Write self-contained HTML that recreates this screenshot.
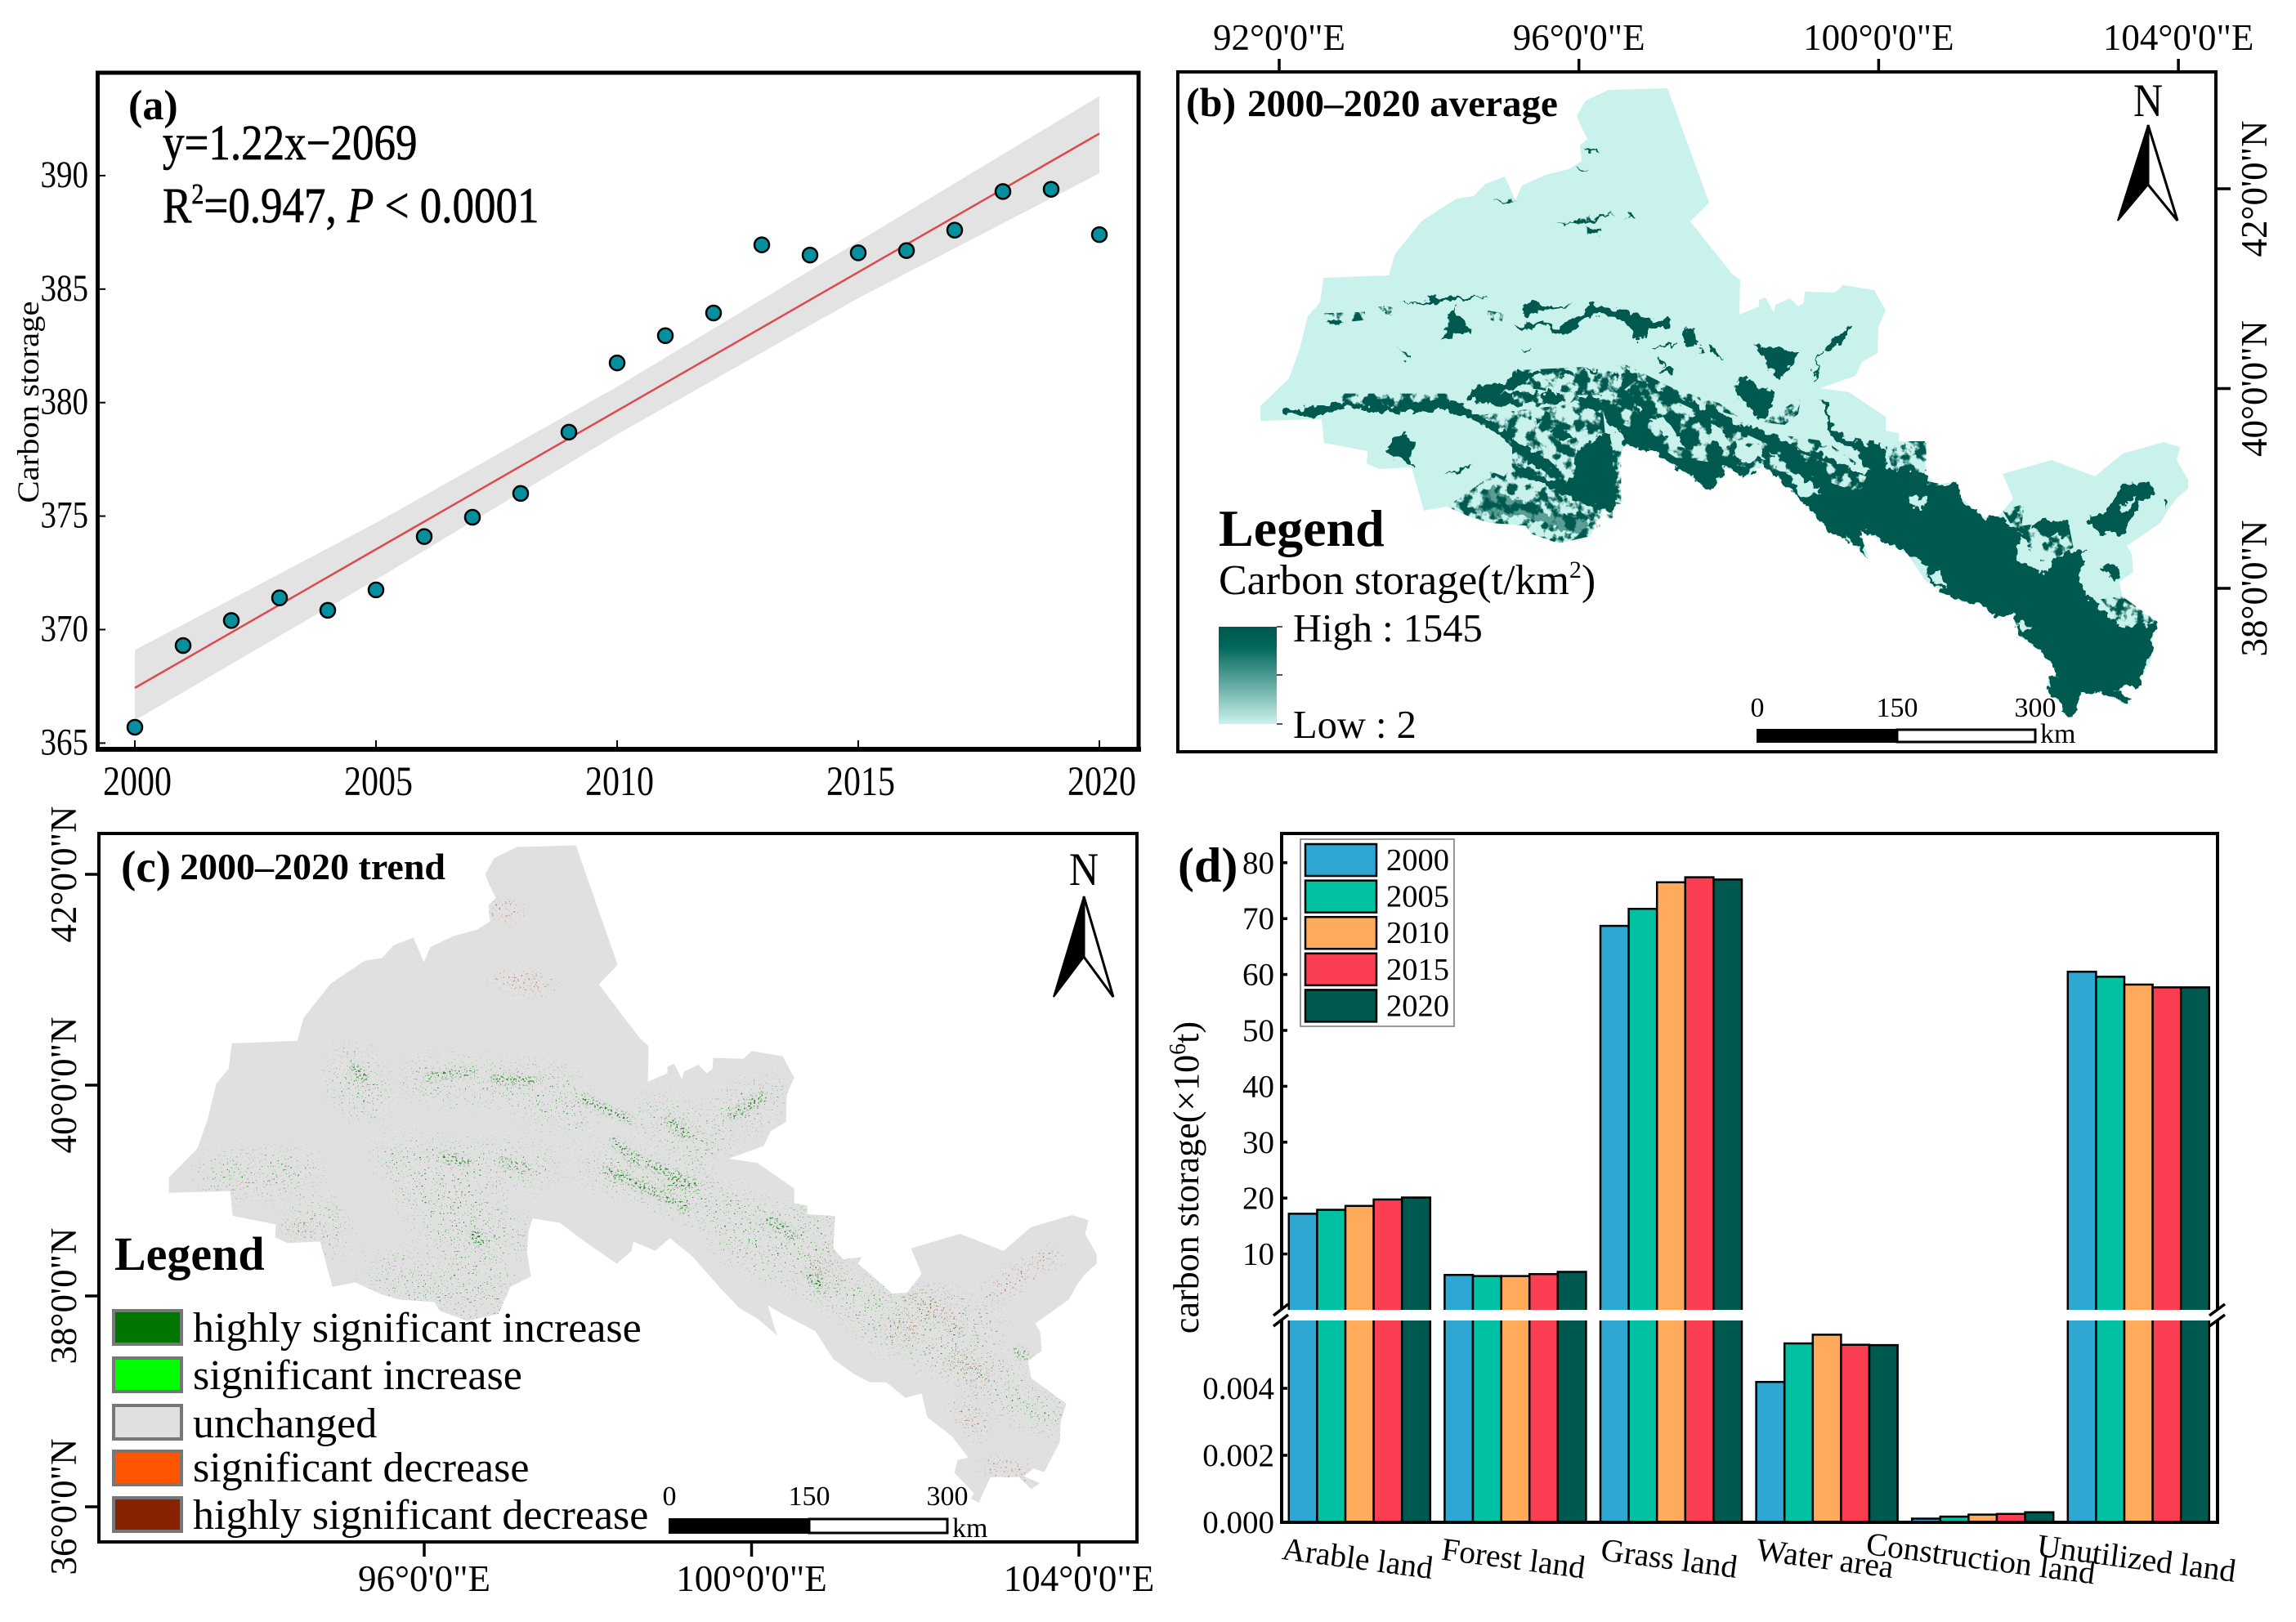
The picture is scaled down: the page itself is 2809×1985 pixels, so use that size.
<!DOCTYPE html>
<html lang="en">
<head>
<meta charset="utf-8">
<title>Carbon storage figure</title>
<style>
html,body{margin:0;padding:0;background:#fff;}
svg{display:block;font-family:"Liberation Serif",serif;}
text{fill:#000;}
</style>
</head>
<body>
<svg id="fig" xmlns="http://www.w3.org/2000/svg" width="2809" height="1985" viewBox="0 0 2809 1985">
<defs>
<path id="region-outline" d="M2040,108 L1968,110 1940,123 1929,142 1933,152 1942,170 1933,178 1935,197 1919,207 1891,214 1862,227 1854,245 1841,216 1817,225 1803,240 1782,243 1740,270 1707,310 1699,337 1619,340 1615,370 1600,387 1590,427 1577,463 1542,497 1542,515 1617,513 1620,542 1673,552 1672,567 1687,574 1727,572 1742,625 1770,620 1800,633 1823,640 1867,643 1873,653 1907,665 1945,657 1960,625 1985,613 1980,583 1982,560 1987,545 2020,550 2052,573 2090,598 2108,583 2110,572 2137,583 2155,568 2183,590 2217,627 2240,650 2263,663 2286,682 2275,647 2293,657 2333,677 2355,710 2380,727 2400,737 2420,737 2443,755 2463,750 2470,778 2500,800 2520,825 2507,828 2503,843 2527,867 2523,873 2533,878 2538,867 2547,848 2582,848 2597,862 2608,855 2588,847 2600,838 2613,842 2632,807 2633,783 2640,762 2597,732 2593,712 2610,700 2608,678 2602,668 2643,640 2653,623 2663,610 2677,598 2677,587 2663,563 2667,547 2647,541 2597,555 2563,583 2510,563 2450,580 2463,610 2445,632 2427,633 2400,610 2385,598 2390,590 2367,593 2355,580 2357,542 2323,540 2323,530 2307,527 2307,510 2262,480 2227,475 2270,460 2278,443 2297,432 2298,400 2307,380 2293,355 2255,349 2245,358 2208,357 2207,370 2200,375 2190,365 2172,373 2170,382 2160,364 2152,367 2152,375 2128,385 2129,343 2119,335 2068,271 2091,248 Z"/>
<clipPath id="c-map-clip"><use href="#region-outline" transform="matrix(1,0,0,1.045,-1335.4,921.6)"/></clipPath>
<linearGradient id="legend-gradient" x1="0" y1="0" x2="0" y2="1">
<stop offset="0" stop-color="#00594e"/><stop offset="0.2" stop-color="#00665a"/><stop offset="1" stop-color="#c9f2ec"/>
</linearGradient>
<filter id="mottle" filterUnits="userSpaceOnUse" x="1440" y="88" width="1272" height="832" color-interpolation-filters="sRGB">
<feTurbulence type="fractalNoise" baseFrequency="0.07" numOctaves="4" seed="3" result="n"/>
<feColorMatrix in="n" type="matrix" values="0 0 0 0 0  0 0 0 0 0  0 0 0 0 0  8 0 0 0 -3.7" result="m"/>
<feComposite in="SourceGraphic" in2="m" operator="in"/>
</filter>
<filter id="mottle-light" filterUnits="userSpaceOnUse" x="1440" y="88" width="1272" height="832" color-interpolation-filters="sRGB">
<feTurbulence type="fractalNoise" baseFrequency="0.055" numOctaves="4" seed="21" result="n"/>
<feColorMatrix in="n" type="matrix" values="0 0 0 0 0  0 0 0 0 0  0 0 0 0 0  10 0 0 0 -5.4" result="m"/>
<feComposite in="SourceGraphic" in2="m" operator="in"/>
</filter>
<filter id="rough" filterUnits="userSpaceOnUse" x="1440" y="88" width="1272" height="832" color-interpolation-filters="sRGB">
<feTurbulence type="fractalNoise" baseFrequency="0.09" numOctaves="3" seed="7" result="n"/>
<feDisplacementMap in="SourceGraphic" in2="n" scale="16" xChannelSelector="R" yChannelSelector="G"/>
</filter>
<filter id="speck-green-sparse" filterUnits="userSpaceOnUse" x="121" y="1020" width="1270" height="867" color-interpolation-filters="sRGB">
<feTurbulence type="fractalNoise" baseFrequency="0.45" numOctaves="2" seed="11" result="n"/>
<feColorMatrix in="n" type="matrix" values="0 0 0 0 0  0 0 0 0 0  0 0 0 0 0  20 0 0 0 -14" result="t"/>
<feGaussianBlur in="SourceAlpha" stdDeviation="14" result="b"/>
<feComposite in="t" in2="b" operator="in" result="m"/>
<feFlood flood-color="#158a15" result="f"/>
<feComposite in="f" in2="m" operator="in"/>
</filter>
<filter id="speck-green-dense" filterUnits="userSpaceOnUse" x="121" y="1020" width="1270" height="867" color-interpolation-filters="sRGB">
<feTurbulence type="fractalNoise" baseFrequency="0.4" numOctaves="2" seed="5" result="n"/>
<feColorMatrix in="n" type="matrix" values="0 0 0 0 0  0 0 0 0 0  0 0 0 0 0  16 0 0 0 -9.6" result="t"/>
<feGaussianBlur in="SourceAlpha" stdDeviation="3" result="b"/>
<feComposite in="t" in2="b" operator="in" result="m"/>
<feFlood flood-color="#0b7a0b" result="f"/>
<feComposite in="f" in2="m" operator="in"/>
</filter>
<filter id="speck-brown" filterUnits="userSpaceOnUse" x="121" y="1020" width="1270" height="867" color-interpolation-filters="sRGB">
<feTurbulence type="fractalNoise" baseFrequency="0.45" numOctaves="2" seed="31" result="n"/>
<feColorMatrix in="n" type="matrix" values="0 0 0 0 0  0 0 0 0 0  0 0 0 0 0  20 0 0 0 -13.4" result="t"/>
<feGaussianBlur in="SourceAlpha" stdDeviation="8" result="b"/>
<feComposite in="t" in2="b" operator="in" result="m"/>
<feFlood flood-color="#a5482a" result="f"/>
<feComposite in="f" in2="m" operator="in"/>
</filter>
</defs>

<!-- PANEL A -->
<g id="panel-a">
<g id="a-marks"></g>
<path d="M119.5,917V89H1393V917Z" fill="none" stroke="#000" stroke-width="5"/>
<line x1="117" x2="1396" y1="917" y2="917" stroke="#000" stroke-width="6"/>
<text x="157" y="146" font-size="52" font-weight="bold">(a)</text>
<text transform="translate(199,195) scale(1,1.15)" font-size="53" stroke="#000" stroke-width="0.6">y=1.22x−2069</text>
<text transform="translate(199,272) scale(1,1.15)" font-size="53" stroke="#000" stroke-width="0.6">R<tspan dy="-20" font-size="30">2</tspan><tspan dy="20">=0.947, </tspan><tspan font-style="italic">P</tspan> &lt; 0.0001</text>
<text transform="translate(47,492) rotate(-90)" text-anchor="middle" font-size="37" textLength="247" lengthAdjust="spacingAndGlyphs">Carbon storage</text>
</g>

<!-- PANEL B -->
<g id="panel-b">
<use href="#region-outline" fill="#c9f2ec"/>

<g filter="url(#mottle)" fill="#00594e">
<g transform="translate(1440,350) scale(0.3333)">
<polygon points="1060,480 1560,420 1600,850 1510,920 1400,945 1300,910 1280,880 1150,870 1080,850 990,810 1120,720 1150,680 1200,700 1260,620 1150,520"/>
<polygon points="540,100 690,95 690,125 560,140"/>
<polygon points="740,75 800,75 800,105 740,100"/>
<polygon points="1140,90 1200,100 1190,140 1140,120"/>
<polygon points="600,395 1000,395 1000,445 800,445 600,435"/>
</g>
<g transform="translate(1850,320) scale(0.3333)">
<polygon points="0,400 420,380 600,470 760,520 830,570 730,540 520,470 400,490 200,490 100,470 0,460"/>
<polygon points="1370,680 1520,665 1520,770 1450,750 1400,775"/>
<polygon points="920,590 1060,500 1050,560 1000,600"/>
<polygon points="1010,640 1150,660 1280,750 1200,740 1060,700"/>
<polygon points="800,440 830,430 830,510 800,490"/>
<polygon points="0,560 400,680 400,890 0,900"/>
</g>
<g transform="translate(2330,530) scale(0.3333)">
<polygon points="360,285 440,260 430,340 450,380 400,350"/>
<polygon points="0,30 75,30 75,150 0,130"/>
<polygon points="430,340 600,320 620,420 540,470 450,470"/>
<polygon points="720,610 800,600 930,695 800,715"/>
<polygon points="720,610 800,600 930,695 800,715"/>
<polygon points="400,670 470,700 440,730 415,720"/>
<polygon points="0,160 150,190 110,290 0,280"/>
</g>
</g>

<g filter="url(#rough)" fill="#00594e">
<g transform="translate(1440,350) scale(0.3333)">
<polygon points="395,455 500,445 600,425 660,430 750,440 830,432 950,418 1020,420 1075,455 1150,500 1250,570 1330,620 1400,670 1380,690 1300,655 1200,555 1130,515 1060,480 1000,455 900,458 800,468 700,450 600,450 500,480 400,468"/>
<polygon points="975,205 1000,110 1025,75 1040,110 1085,175 1035,170"/>
<polygon points="550,125 600,125 600,145"/>
<polygon points="745,80 790,100 770,100"/>
<polygon points="810,60 880,60 950,40 1050,38 1150,38 1060,50 950,58 880,66"/>
<polygon points="815,225 850,255 845,270 820,235"/>
<polygon points="760,605 830,540 875,570 860,668"/>
<polygon points="985,695 1040,665 1090,655 1040,680"/>
<polygon points="1060,420 1090,375 1200,355 1260,320 1340,315 1300,345 1200,385 1130,420"/>
<polygon points="1090,400 1300,390 1400,390 1560,410 1560,450 1400,420 1290,440 1100,430"/>
<polygon points="1460,620 1560,540 1600,540 1600,830 1500,800 1420,760 1330,720 1240,680 1260,660 1340,700 1420,730 1500,750 1480,680"/>
<polygon points="1120,760 1170,735 1200,770 1300,800 1380,840 1500,860 1510,915 1400,890 1300,860 1280,840 1160,850 1120,830" opacity="0.55"/>
</g>
<g transform="translate(1560,90) scale(0.408,0.3333)">
<polygon points="925,280 975,282 950,298"/>
<polygon points="895,346 940,344 915,354"/>
<polygon points="650,460 720,476 680,476"/>
<polygon points="825,548 940,528 1015,518 950,540"/>
<polygon points="935,565 978,575 975,592 935,582"/>
<polygon points="1050,518 1085,530 1060,538"/>
</g>
<g transform="translate(1850,320) scale(0.3333)">
<polygon points="40,150 90,143 130,165 235,158 130,180 45,205 35,180"/>
<polygon points="15,235 120,222 150,245 210,225 260,190 275,160 340,165 420,180 490,210 540,215 590,215 580,240 545,240 500,260 470,285 445,285 440,255 400,215 340,195 280,205 230,245 190,265 150,260 120,235 40,250 15,245"/>
<polygon points="630,235 670,265 680,300 650,320 630,280"/>
<polygon points="690,310 710,330 685,330"/>
<polygon points="725,305 775,350 730,340"/>
<polygon points="890,305 960,320 1055,325 1020,390 980,430 945,390"/>
<polygon points="1140,320 1190,280 1250,235 1215,290 1155,325"/>
<polygon points="545,395 590,395 585,412 545,410"/>
<polygon points="825,430 890,440 960,480 965,510 910,590 880,540 830,500"/>
<polygon points="360,415 382,405 380,440"/>
<polygon points="0,410 90,403 110,415 50,430 0,440"/>
<polygon points="170,405 220,400 230,420 190,425"/>
<polygon points="270,390 320,400 300,410"/>
<polygon points="40,318 70,320 50,330"/>
<path d="M515,325 L600,300 M545,350 L550,385 M1110,450 L1120,360 L1135,330" fill="none" stroke="#00594e" stroke-width="6"/>
<polygon points="230,700 300,720 380,770 390,880 330,890 250,840 190,830 230,780"/>
<polygon points="0,640 60,700 180,770 150,775 50,710 0,660"/>
<polygon points="0,740 80,780 130,800 60,800 0,770"/>
<polygon points="130,620 180,610 230,650 170,650"/>
<polygon points="85,575 125,575 105,600"/>
<polygon points="0,475 80,490 140,520 200,500 260,510 340,510 400,480 420,400 450,420 520,460 590,490 650,510 700,540 730,530 790,560 815,600 900,610 960,640 1020,660 1040,680 1100,710 1130,700 1180,700 1230,750 1290,790 1310,770 1270,700 1180,650 1165,620 1170,590 1135,500 1170,540 1180,620 1260,660 1350,670 1380,750 1410,770 1450,750 1520,790 1550,820 1620,810 1650,870 1730,940 1785,935 1840,980 1890,1010 1900,1030 1870,1050 1890,1100 1970,1150 1980,1100 2040,1070 2100,1050 2085,1150 2080,1190 2105,1220 2160,1280 2240,1345 2370,1325 2350,1390 2345,1460 2290,1565 2250,1555 2215,1580 2275,1605 2240,1625 2195,1585 2090,1585 2065,1640 2050,1675 2020,1660 2030,1640 1960,1570 1970,1525 2010,1515 1950,1440 1860,1375 1840,1290 1780,1305 1710,1250 1650,1250 1590,1220 1515,1170 1525,1120 1449,1071 1329,1011 1275,981 1308,1086 1239,1029 1170,990 1101,921 999,810 915,744 861,789 780,756 774,789 720,834 606,759 510,690 411,675 400,640 330,570 250,520 170,510 100,530 0,510"/>
</g>
<g transform="translate(2330,530) scale(0.3333)">
<polygon points="800,190 900,180 925,215 860,260 800,370 720,370 680,330 680,300 730,300 770,240"/>
<polygon points="450,340 520,315 600,330 600,375 530,380"/>
<polygon points="735,480 790,490 785,540 745,530"/>
<polygon points="960,250 972,250 965,275"/>
</g>
<g fill="#c9f2ec">
<g transform="translate(1850,320) scale(0.3333)">
<polygon points="510,580 560,570 590,610 640,690 600,680 540,620"/>
<polygon points="730,590 770,620 810,690 760,670 730,630"/>
<polygon points="820,650 900,680 930,720 850,740 820,700"/>
<polygon points="940,700 980,720 960,740"/>
<polygon points="1000,770 1040,780 1110,860 1060,840"/>
<polygon points="460,530 480,550 470,560"/>
<polygon points="640,540 680,560 650,570"/>
<polygon points="1100,690 1160,680 1280,760 1300,780 1250,770 1180,720"/>
<polygon points="560,640 600,640 610,670 570,665"/>
<polygon points="1040,830 1100,810 1130,850 1060,860"/>
</g>
<g transform="translate(2330,530) scale(0.3333)">
<polygon points="420,380 450,400 500,500 420,470"/>
<polygon points="405,690 465,710 440,730 415,705"/>
<polygon points="85,520 120,510 155,570 120,560"/>
<polygon points="30,230 90,240 60,280 20,260"/>
<polygon points="820,240 850,240 810,300 800,280"/>
</g>
</g>
</g>
<g filter="url(#mottle-light)" fill="#c9f2ec">
<g transform="translate(1850,320) scale(0.3333)">
<polygon points="0,480 400,480 450,440 700,560 1000,700 1060,780 900,760 600,720 450,620 250,520 0,520"/>
<polygon points="1050,700 1300,790 1280,850 1100,790"/>
</g>
</g>
<rect x="1441" y="88" width="1270" height="832" fill="none" stroke="#000" stroke-width="4"/>
<g id="b-ticks"></g>
<text x="1451" y="142" font-size="50" font-weight="bold">(b)</text>
<text x="1526" y="142" font-size="47" font-weight="bold">2000–2020 average</text>
<text transform="translate(2628,142) scale(1,1.15)" font-size="50" text-anchor="middle">N</text>
<polygon points="2628,153 2628,226 2591,270" fill="#000" stroke="#000" stroke-width="2"/>
<polygon points="2628,153 2628,226 2664,270" fill="#fff" stroke="#000" stroke-width="3"/>
<text x="1491" y="668" font-size="64" font-weight="bold">Legend</text>
<text x="1491" y="727" font-size="52">Carbon storage(t/km<tspan dy="-20" font-size="30">2</tspan><tspan dy="20">)</tspan></text>
<rect x="1491" y="767" width="71" height="119" fill="url(#legend-gradient)"/>
<path d="M1562,767h7M1562,826h7M1562,886h7" stroke="#555" stroke-width="2"/>
<text x="1582" y="785" font-size="48.5">High : 1545</text>
<text x="1582" y="903" font-size="48.5">Low : 2</text>
<g>
<rect x="2150" y="893" width="171" height="15" fill="#000" stroke="#000" stroke-width="2"/>
<rect x="2321" y="893" width="169" height="15" fill="#fff" stroke="#000" stroke-width="3"/>
<text x="2150" y="877" font-size="34" text-anchor="middle">0</text>
<text x="2321" y="877" font-size="34" text-anchor="middle">150</text>
<text x="2490" y="877" font-size="34" text-anchor="middle">300</text>
<text x="2496" y="909" font-size="34">km</text>
</g>
</g>

<!-- PANEL C -->
<g id="panel-c">
<use href="#region-outline" fill="#e0e0e0" transform="matrix(1,0,0,1.045,-1335.4,921.6)"/>
<g clip-path="url(#c-map-clip)">
<g filter="url(#speck-green-sparse)">
<g transform="translate(0,980) scale(0.9058,0.641)" fill="none" stroke="#000" stroke-linecap="round" stroke-width="70">
<path d="M480,510 L490,570 M580,530 L750,550 M730,560 L770,600 M895,600 L945,660 M990,600 L1030,565 M540,680 L720,700 M560,720 L650,900 M530,900 L580,930 M610,930 L670,970 M600,740 L680,830 M820,700 L1000,790 M980,790 L1120,830 M1060,870 L1160,950 M1250,960 L1320,1000 M1250,1040 L1340,1100 M1340,1120 L1420,1170 M430,800 L435,830 M300,715 L400,710 M1000,840 L1060,880 M1170,960 L1200,1010"/>
</g>
</g>
<g filter="url(#speck-green-dense)">
<g transform="translate(0,980) scale(0.9058,0.641)" fill="none" stroke="#000" stroke-linecap="round" stroke-width="14">
<path d="M480,510 L490,530 M580,530 Q610,515 635,520 M670,530 L720,535 M790,570 L850,610 M905,610 L930,640 M990,600 L1030,565 M820,705 L925,775 M860,680 L940,735 M905,730 L940,735 M830,650 L860,690 M1095,905 L1110,930 M600,680 L630,690 M680,690 L710,700 M640,825 L650,845 M1040,800 L1070,830 M1375,1050 L1385,1060"/>
</g>
</g>
<g filter="url(#speck-brown)">
<g transform="translate(0,980) scale(0.9058,0.641)" fill="none" stroke="#000" stroke-linecap="round" stroke-width="30">
<path d="M1340,940 L1420,870 M1240,950 L1290,1000 M1300,1070 L1330,1110 M670,205 L690,210 M680,345 L735,350 M395,810 L410,815 M1210,1000 L1230,1010 M1300,1160 L1320,1200 M1340,1270 L1380,1285 M1100,880 L1120,900"/>
</g>
</g>
</g>
<rect x="121" y="1020" width="1270" height="867" fill="none" stroke="#000" stroke-width="4"/>
<g id="c-ticks"></g>
<text x="148" y="1079" font-size="55" font-weight="bold">(c)</text>
<text x="220" y="1076" font-size="46" font-weight="bold">2000–2020 trend</text>
<text transform="translate(1326,1083) scale(1,1.15)" font-size="50" text-anchor="middle">N</text>
<polygon points="1326,1097 1326,1171 1289,1220" fill="#000" stroke="#000" stroke-width="2"/>
<polygon points="1326,1097 1326,1171 1362,1220" fill="#fff" stroke="#000" stroke-width="3"/>
<text x="140" y="1554" font-size="58" font-weight="bold">Legend</text>
<g font-size="52" stroke-width="4">
<rect x="139" y="1604" width="83" height="41" fill="#007500" stroke="#777"/>
<rect x="139" y="1662" width="83" height="41" fill="#00ff00" stroke="#777"/>
<rect x="139" y="1720" width="83" height="41" fill="#e0e0e0" stroke="#777"/>
<rect x="139" y="1776" width="83" height="41" fill="#ff5500" stroke="#777"/>
<rect x="139" y="1833" width="83" height="41" fill="#882200" stroke="#777"/>
<text x="236" y="1642">highly significant increase</text>
<text x="236" y="1700">significant increase</text>
<text x="236" y="1759">unchanged</text>
<text x="236" y="1813">significant decrease</text>
<text x="236" y="1871">highly significant decrease</text>
</g>
<g>
<rect x="819" y="1859" width="171" height="17" fill="#000" stroke="#000" stroke-width="2"/>
<rect x="990" y="1859" width="169" height="17" fill="#fff" stroke="#000" stroke-width="3"/>
<text x="819" y="1842" font-size="34" text-anchor="middle">0</text>
<text x="990" y="1842" font-size="34" text-anchor="middle">150</text>
<text x="1159" y="1842" font-size="34" text-anchor="middle">300</text>
<text x="1165" y="1881" font-size="34">km</text>
</g>
</g>

<!-- PANEL D -->
<g id="panel-d">
<g id="d-bars"></g>
<rect x="1555" y="1603" width="1172" height="13" fill="#fff"/>
<path d="M1568,1603V1020H2713V1603M2713,1616V1863H1568V1616" fill="none" stroke="#000" stroke-width="4"/>
<path d="M1558,1610L1576,1596M1558,1623L1576,1609M2703,1610L2722,1596M2703,1623L2722,1609" stroke="#000" stroke-width="3.5" fill="none"/>
<g id="d-axes"></g>
<text x="1441" y="1079" font-size="60" font-weight="bold">(d)</text>
<text transform="translate(1466,1441) rotate(-90)" text-anchor="middle" font-size="44">carbon storage(×10<tspan dy="-16" font-size="28">6</tspan><tspan dy="16">t)</tspan></text>
<g id="d-legend"></g>
</g>

<script>
// ---- panel (a) data ----
var years = [2000,2001,2002,2003,2004,2005,2006,2007,2008,2009,2010,2011,2012,2013,2014,2015,2016,2017,2018,2019,2020];
var carbonStorage = [365.7,369.3,370.4,371.4,370.85,371.75,374.1,374.95,376.0,378.7,381.75,382.95,383.95,386.95,386.5,386.6,386.7,387.6,389.3,389.4,387.4];
var fitYears = [2000,2020];
var fitValues = [367.43,391.85];
var bandYears = [2000,2005,2010,2015,2020];
var bandUpper = [369.1,374.7,380.7,387.1,393.5];
var bandLower = [366.0,372.2,378.6,384.6,390.1];
var xTickYears = [2000,2005,2010,2015,2020];
var yTickValues = [365,370,375,380,385,390];

// ---- panel (d) data ----
var landCategories = ["Arable land","Forest land","Grass land","Water area","Construction land","Unutilized land"];
var seriesYears = ["2000","2005","2010","2015","2020"];
var storage2000 = [17.2,6.25,68.7,0.00419,0.00011,60.5];
var storage2005 = [17.9,6.05,71.75,0.00534,0.00017,59.6];
var storage2010 = [18.6,6.05,76.5,0.0056,0.00023,58.2];
var storage2015 = [19.75,6.4,77.4,0.0053,0.00025,57.7];
var storage2020 = [20.1,6.8,77.0,0.00529,0.0003,57.7];
var upperTicks = [10,20,30,40,50,60,70,80];
var lowerTicks = [0,0.002,0.004];

// ---- map graticule labels ----
var bLonLabels = ['92°0\'0"E','96°0\'0"E','100°0\'0"E','104°0\'0"E'];
var bLatLabels = ['42°0\'0"N','40°0\'0"N','38°0\'0"N'];
var cLonLabels = ['96°0\'0"E','100°0\'0"E','104°0\'0"E'];
var cLatLabels = ['42°0\'0"N','40°0\'0"N','38°0\'0"N','36°0\'0"N'];

var NS = 'http://www.w3.org/2000/svg';
function mk(parent, tag, attrs, txt){
  var el = document.createElementNS(NS, tag);
  for (var k in attrs) el.setAttribute(k, attrs[k]);
  if (txt !== undefined) el.textContent = txt;
  parent.appendChild(el);
  return el;
}

// axis functions, panel (a)
function ax(y){ return 165 + (y - 2000) * 59; }
function ay(v){ return 909.4 - (v - 365) * 27.78; }

var aG = document.getElementById('a-marks');
var bandPts = [];
bandYears.forEach(function(y,i){ bandPts.push(ax(y)+','+ay(bandUpper[i])); });
for (var i = bandYears.length - 1; i >= 0; i--) bandPts.push(ax(bandYears[i])+','+ay(bandLower[i]));
var band = mk(aG,'polygon',{points:bandPts.join(' '),fill:'#e3e3e3'});


var fit = mk(aG,'line',{x1:ax(fitYears[0]),y1:ay(fitValues[0]),x2:ax(fitYears[1]),y2:ay(fitValues[1]),stroke:'#dc4a4e','stroke-width':2.5});


years.forEach(function(y,i){
  var c = mk(aG,'circle',{cx:ax(y),cy:ay(carbonStorage[i]),r:9,fill:'#04909f',stroke:'#000','stroke-width':2.5});
  
  
});
xTickYears.forEach(function(y){
  var t = mk(aG,'line',{x1:ax(y),x2:ax(y),y1:906,y2:917,stroke:'#000','stroke-width':2});
  
  
  var l = mk(aG,'text',{transform:'translate('+(ax(y)+3)+',973) scale(1,1.2)','font-size':42,'text-anchor':'middle'},String(y));
  
  
});
yTickValues.forEach(function(v){
  var t = mk(aG,'line',{x1:119,x2:129,y1:ay(v),y2:ay(v),stroke:'#000','stroke-width':2});
  
  
  var l = mk(aG,'text',{transform:'translate(108,'+(ay(v)+14)+') scale(1,1.2)','font-size':39,'text-anchor':'end'},String(v));
  
  
});

// map graticules
function lonTick(g, x, y1, y2, label, ty){
  var t = mk(g,'line',{x1:x,x2:x,y1:y1,y2:y2,stroke:'#000','stroke-width':3.5});
  
  
  var l = mk(g,'text',{x:x,y:ty,'font-size':45,'text-anchor':'middle'},label);
  
  
}
function latTick(g, y, x1, x2, label, tx){
  var t = mk(g,'line',{x1:x1,x2:x2,y1:y,y2:y,stroke:'#000','stroke-width':3.5});
  
  
  var l = mk(g,'text',{transform:'translate('+tx+','+y+') rotate(-90)','font-size':45,'text-anchor':'middle'},label);
  
  
}
var bT = document.getElementById('b-ticks');
function bLon(i){ return 1565 + i * 366.7; }
function bLat(i){ return 231 + i * 244.5; }
bLonLabels.forEach(function(s,i){ lonTick(bT, bLon(i), 72, 88, s, 61); });
bLatLabels.forEach(function(s,i){ latTick(bT, bLat(i), 2711, 2729, s, 2773); });
var cT = document.getElementById('c-ticks');
function cLon(i){ return 519 + i * 400.5; }
function cLat(i){ return 1070 + i * 258; }
cLonLabels.forEach(function(s,i){ lonTick(cT, cLon(i), 1887, 1905, s, 1947); });
cLatLabels.forEach(function(s,i){ latTick(cT, cLat(i), 104, 121, s, 93); });

// axis functions, panel (d)
var barColors = ['#2ea7d2','#00c2a3','#ffab5b','#fb3e52','#00594e'];
var allSeries = [storage2000,storage2005,storage2010,storage2015,storage2020];
function dGroupX(c){ return 1576.8 + c * 190.6; }
var barW = 34.6;
function dY(v){
  if (v <= 0.006) return 1863 - v / 0.002 * 82;
  return 1603 - v * 6.84;
}
var dG = document.getElementById('d-bars');
allSeries.forEach(function(vals,s){
  vals.forEach(function(v,c){
    var y = dY(v);
    var r = mk(dG,'rect',{x:dGroupX(c)+s*barW,y:y,width:barW,height:1863-y,fill:barColors[s],stroke:'#000','stroke-width':2.5});
    
    
  });
});
var dA = document.getElementById('d-axes');
upperTicks.forEach(function(v){
  var t = mk(dA,'line',{x1:1568,x2:1575,y1:dY(v),y2:dY(v),stroke:'#000','stroke-width':3.5});
  
  
  var l = mk(dA,'text',{x:1559,y:dY(v)+13,'font-size':39,'text-anchor':'end'},String(v));
  
  
});
lowerTicks.forEach(function(v){
  var t = mk(dA,'line',{x1:1568,x2:1575,y1:dY(v),y2:dY(v),stroke:'#000','stroke-width':3.5});
  
  
  var l = mk(dA,'text',{x:1559,y:dY(v)+13,'font-size':39,'text-anchor':'end'},v.toFixed(3));
  
  
});
landCategories.forEach(function(n,c){
  var cx = dGroupX(c) + 2.5 * barW - 4;
  var l = mk(dA,'text',{transform:'translate('+cx+',1920) rotate(7.5)','font-size':39.5,'text-anchor':'middle'},n);
  
  
});
var dL = document.getElementById('d-legend');
var box = mk(dL,'rect',{x:1591,y:1027,width:188,height:229,fill:'#fff',stroke:'#777','stroke-width':1.5});


seriesYears.forEach(function(y,s){
  var top = 1033 + s * 44.6;
  var sw = mk(dL,'rect',{x:1597,y:top,width:87,height:39,fill:barColors[s],stroke:'#000','stroke-width':2.5});
  
  
  var tx = mk(dL,'text',{x:1696,y:top+32,'font-size':38.5},y);
  
  
});
</script>
</svg>
</body>
</html>
